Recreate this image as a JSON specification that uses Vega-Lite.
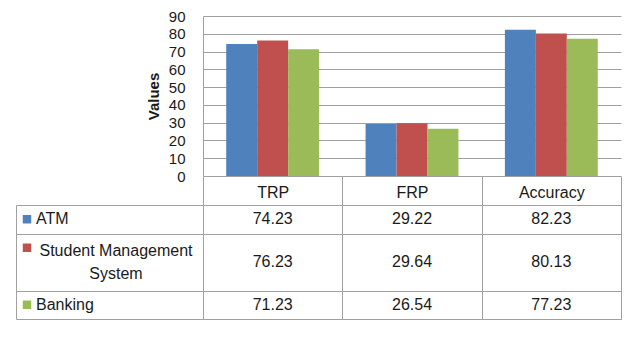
{
  "$schema": "https://vega.github.io/schema/vega-lite/v6.json",
  "width": 418,
  "height": 303,
  "autosize": {"type": "none"},
  "padding": {"left": 203, "top": 16, "right": 17, "bottom": 19},
  "background": "white",
  "config": {"view": {"stroke": null}, "font": "Liberation Sans"},
  "data": {"values": [
    {"metric": "TRP", "series": "ATM", "value": 74.23},
    {"metric": "TRP", "series": "Student Management System", "value": 76.23},
    {"metric": "TRP", "series": "Banking", "value": 71.23},
    {"metric": "FRP", "series": "ATM", "value": 29.22},
    {"metric": "FRP", "series": "Student Management System", "value": 29.64},
    {"metric": "FRP", "series": "Banking", "value": 26.54},
    {"metric": "Accuracy", "series": "ATM", "value": 82.23},
    {"metric": "Accuracy", "series": "Student Management System", "value": 80.13},
    {"metric": "Accuracy", "series": "Banking", "value": 77.23}
  ]},
  "layer": [
    {
      "mark": {"type": "bar"},
      "encoding": {
        "x": {
          "field": "metric", "type": "nominal", "sort": null,
          "scale": {"domain": ["TRP", "FRP", "Accuracy"], "paddingInner": 0, "paddingOuter": 0},
          "axis": {
            "title": null, "orient": "bottom", "grid": false,
            "domain": true, "domainColor": "#a0a0a0",
            "ticks": true, "tickBand": "extent", "tickSize": -143, "tickColor": "#a0a0a0",
            "labelFontSize": 16, "labelColor": "#1a1a1a", "labelPadding": 16,
            "labelBaseline": "middle", "labelAngle": 0
          }
        },
        "xOffset": {
          "field": "series", "type": "nominal", "sort": null,
          "scale": {"domain": ["ATM", "Student Management System", "Banking"], "paddingInner": 0, "paddingOuter": 0.75}
        },
        "y": {
          "field": "value", "type": "quantitative",
          "scale": {"domain": [0, 90], "range": [160, 0], "nice": false, "zero": true},
          "axis": {
            "title": "Values", "values": [0, 10, 20, 30, 40, 50, 60, 70, 80, 90],
            "grid": true, "gridColor": "#a0a0a0", "ticks": false,
            "domain": true, "domainColor": "#a0a0a0",
            "labelPadding": 18, "labelFontSize": 15, "labelColor": "#1a1a1a",
            "titleFontSize": 15, "titleFontWeight": "bold", "titleColor": "#1a1a1a", "titlePadding": 7
          }
        },
        "color": {
          "field": "series", "type": "nominal",
          "scale": {"domain": ["ATM", "Student Management System", "Banking"], "range": ["#4F81BD", "#C0504D", "#9BBB59"]},
          "legend": null
        }
      }
    },
    {
      "layer": [
        {
          "transform": [{"filter": "datum.series != 'Student Management System'"}],
          "mark": {"type": "text", "fontSize": 16, "color": "#1a1a1a", "baseline": "middle"},
          "encoding": {
            "x": {"field": "metric", "type": "nominal", "sort": null},
            "y": {
              "field": "series", "type": "nominal", "sort": null,
              "scale": {"domain": ["ATM", "Student Management System", "SMS_b", "Banking"], "range": [189, 303], "paddingInner": 0, "paddingOuter": 0},
              "axis": {
                "orient": "left", "offset": 187, "values": ["ATM", "SMS_b", "Banking"],
                "tickBand": "extent", "ticks": true, "tickSize": -187, "tickColor": "#a0a0a0",
                "grid": true, "gridColor": "#a0a0a0",
                "domain": true, "domainColor": "#a0a0a0",
                "labels": false, "title": null
              }
            },
            "text": {"field": "value", "type": "quantitative", "format": ".2f"}
          }
        },
        {
          "transform": [{"filter": "datum.series == 'Student Management System'"}],
          "mark": {"type": "text", "fontSize": 16, "color": "#1a1a1a", "baseline": "middle"},
          "encoding": {
            "x": {"field": "metric", "type": "nominal", "sort": null},
            "y": {"field": "series", "type": "nominal", "sort": null, "bandPosition": 1},
            "text": {"field": "value", "type": "quantitative", "format": ".2f"}
          }
        },
        {
          "transform": [{"filter": "datum.metric == 'TRP'"}],
          "mark": {"type": "point", "shape": "square", "filled": true, "size": 72, "opacity": 1},
          "encoding": {
            "x": {"datum": "TRP", "bandPosition": 0},
            "xOffset": {"value": -176},
            "y": {"field": "series", "type": "nominal", "sort": null},
            "color": {"field": "series", "type": "nominal", "legend": null}
          }
        },
        {
          "transform": [{"filter": "datum.metric == 'TRP' && datum.series != 'Student Management System'"}],
          "mark": {"type": "text", "fontSize": 16, "color": "#1a1a1a", "baseline": "middle", "align": "left", "dx": -167},
          "encoding": {
            "x": {"datum": "TRP", "bandPosition": 0},
            "y": {"field": "series", "type": "nominal", "sort": null},
            "text": {"field": "series", "type": "nominal"}
          }
        },
        {
          "transform": [{"filter": "datum.metric == 'TRP' && datum.series == 'Student Management System'"}],
          "mark": {"type": "text", "fontSize": 16, "color": "#1a1a1a", "baseline": "middle", "align": "center", "dx": -87, "dy": -11, "lineHeight": 23},
          "encoding": {
            "x": {"datum": "TRP", "bandPosition": 0},
            "y": {"field": "series", "type": "nominal", "sort": null, "bandPosition": 1},
            "text": {"value": ["Student Management", "System"]}
          }
        }
      ]
    }
  ],
  "resolve": {"scale": {"y": "independent"}, "axis": {"y": "independent"}}
}
